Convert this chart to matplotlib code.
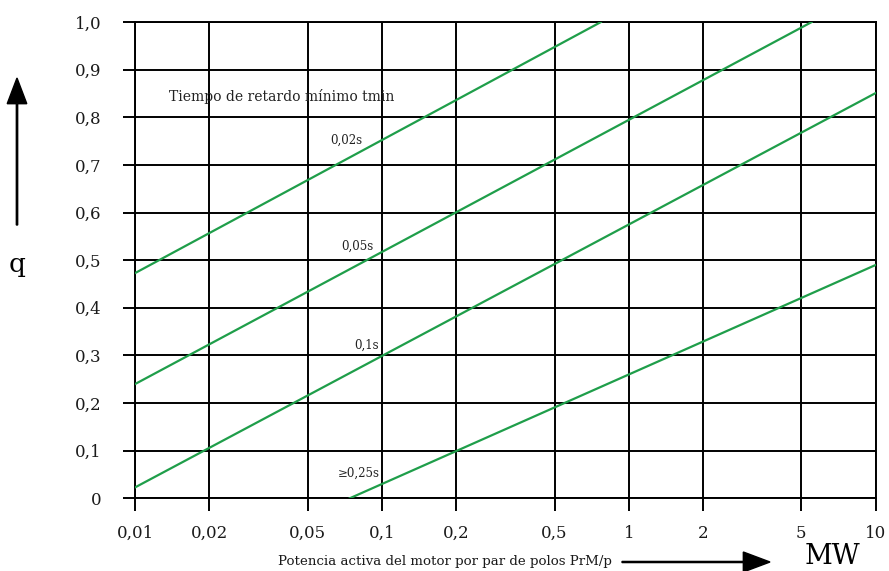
import matplotlib
matplotlib.use('Agg')
import matplotlib.pyplot as plt

# valores
tiempos = ['0,02s', '0,05s', '0,1s', '≥0,25s']
x_ini = [0.01, 0.01, 0.01, 0.074]
q_ini = [0.473, 0.24, 0.023, 0.0]
x_fin = [0.77, 5.5, 10, 10]
q_fin = [1.0, 1.0, 0.851, 0.49]

x_ticks = [0.01, 0.02, 0.05, 0.1, 0.2, 0.5, 1, 2, 5, 10]
x_labels = ['0,01', '0,02', '0,05', '0,1', '0,2', '0,5', '1', '2', '5', '10']
y_ticks = [0, 0.1, 0.2, 0.3, 0.4, 0.5, 0.6, 0.7, 0.8, 0.9, 1.0]
y_labels = ['0', '0,1', '0,2', '0,3', '0,4', '0,5', '0,6', '0,7', '0,8', '0,9', '1,0']

# posiciones de las etiquetas de cada recta
pos_etiquetas = [(0.083, 0.751), (0.092, 0.53), (0.097, 0.322), (0.098, 0.053)]

plt.rcParams['font.family'] = ['DejaVu Serif']

fig = plt.figure(figsize=(8.89, 5.71), dpi=100)
ax = fig.add_axes([0.152, 0.1273, 0.833, 0.834])

for xi, qi, xf, qf in zip(x_ini, q_ini, x_fin, q_fin):
    ax.plot([xi, xf], [qi, qf], color='#1f9e4a', lw=1.6, zorder=3)

ax.set_xscale('log')
ax.set_xlim(0.01, 10)
ax.set_ylim(0, 1.0)
ax.set_xticks(x_ticks)
ax.set_xticklabels(x_labels)
ax.minorticks_off()
ax.set_yticks(y_ticks)
ax.set_yticklabels(y_labels)
ax.grid(True, color='black', lw=1.4)
for s in ax.spines.values():
    s.set_color('black')
    s.set_linewidth(1.4)
ax.tick_params(axis='both', direction='out', length=9, width=1.4, labelsize=12, labelcolor='#1a1a1a')
ax.tick_params(axis='y', pad=15)
ax.tick_params(axis='x', pad=10)

for t, (px, py) in zip(tiempos, pos_etiquetas):
    ax.text(px, py, t, ha='right', va='center', fontsize=8.5, color='#222222')

ax.text(0.0394, 0.843, 'Tiempo de retardo mínimo tmin', ha='center', va='center',
        fontsize=10, color='#222222')

# eje y: flecha y q
fig.patches.append(matplotlib.patches.FancyArrow(17 / 889, 1 - 225 / 571, 0, (225 - 78) / 571,
                   width=0.0015, head_width=0.022, head_length=0.045,
                   length_includes_head=True, color='black', transform=fig.transFigure))
fig.text(17 / 889, 1 - 265 / 571, 'q', ha='center', va='center', fontsize=19)

# eje x: texto, flecha y MW
fig.text(278 / 889, 1 - 561 / 571, 'Potencia activa del motor por par de polos PrM/p',
         ha='left', va='center', fontsize=9.6, color='#1a1a1a')
fig.patches.append(matplotlib.patches.FancyArrow(622 / 889, 1 - 562 / 571, (770 - 622) / 889, 0,
                   width=0.002, head_width=0.035, head_length=0.03,
                   length_includes_head=True, color='black', transform=fig.transFigure))
fig.text(833 / 889, 1 - 556 / 571, 'MW', ha='center', va='center', fontsize=19.5)

fig.savefig('out.png', dpi=100)
